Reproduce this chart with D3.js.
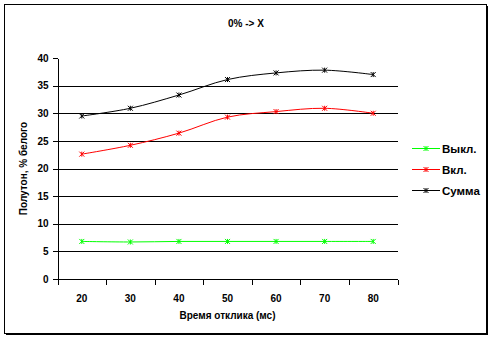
<!DOCTYPE html>
<html>
<head>
<meta charset="utf-8">
<script src="https://cdn.jsdelivr.net/npm/d3@7"></script>
<style>
  html, body { margin: 0; padding: 0; background: #fff; }
  svg { display: block; }
  text { font-family: "Liberation Sans", Arial, sans-serif; font-weight: bold; fill: #000; }
</style>
</head>
<body>
<script>
// Response time, ms
const categories = [20, 30, 40, 50, 60, 70, 80];
// Halftone, % of white
const offValues = [6.8, 6.7, 6.8, 6.8, 6.8, 6.8, 6.8];
const onValues  = [22.6, 24.2, 26.4, 29.3, 30.3, 30.9, 30.0];
const sumValues = [29.5, 30.9, 33.3, 36.1, 37.3, 37.8, 37.0];
const yTicks = [0, 5, 10, 15, 20, 25, 30, 35, 40];

const series = [
  { name: "Выкл.", values: offValues, color: "#00ff00" },
  { name: "Вкл.",  values: onValues,  color: "#ff0000" },
  { name: "Сумма", values: sumValues, color: "#000000" }
];

const W = 493, H = 340;
const plot = { left: 57.5, right: 397.5, top: 58, bottom: 279 };

const svg = d3.select("body").append("svg").attr("width", W).attr("height", H);

// chart frame with drop shadow
svg.append("rect").attr("x", 6).attr("y", 6).attr("width", 482).attr("height", 329).attr("fill", "#000");
svg.append("rect").attr("x", 4.5).attr("y", 4.5).attr("width", 482).attr("height", 329)
  .attr("fill", "#fff").attr("stroke", "#000").attr("stroke-width", 1);

const x = d3.scaleBand().domain(categories).range([plot.left, plot.right]);
const y = d3.scaleLinear().domain([0, 40]).range([plot.bottom, plot.top]);
const cx = d => x(d) + x.bandwidth() / 2;

// horizontal gridlines
svg.append("g").attr("shape-rendering", "crispEdges")
  .selectAll("line").data(yTicks.filter(t => t > 0 && t < 40)).join("line")
  .attr("x1", plot.left).attr("x2", plot.right)
  .attr("y1", d => Math.round(y(d)) + 0.5).attr("y2", d => Math.round(y(d)) + 0.5)
  .attr("stroke", "#000").attr("stroke-width", 1);

// y axis
const yAxis = svg.append("g").attr("transform", `translate(${plot.left},0)`)
  .call(d3.axisLeft(y).tickValues(yTicks).tickSize(5).tickPadding(4).tickSizeOuter(0));
yAxis.select(".domain").attr("stroke", "#000").attr("shape-rendering", "crispEdges");
yAxis.selectAll(".tick line").attr("stroke", "#000").attr("shape-rendering", "crispEdges");
yAxis.selectAll("text").style("font-size", "10px").style("font-family", "Liberation Sans, Arial, sans-serif").style("font-weight", "bold");

// x axis: ticks at category boundaries
const xg = svg.append("g").attr("transform", `translate(0,${plot.bottom + 0.5})`);
xg.append("line").attr("x1", plot.left).attr("x2", plot.right).attr("stroke", "#000").attr("shape-rendering", "crispEdges");
const bounds = categories.map(c => x(c)).concat([plot.right]);
xg.selectAll("line.tk").data(bounds).join("line").attr("class", "tk")
  .attr("x1", d => Math.round(d) + 0.5).attr("x2", d => Math.round(d) + 0.5)
  .attr("y1", 0).attr("y2", 5).attr("stroke", "#000").attr("shape-rendering", "crispEdges");
xg.selectAll("text").data(categories).join("text")
  .attr("x", d => cx(d)).attr("y", 22).attr("text-anchor", "middle")
  .style("font-size", "10px").text(d => d);

// series lines (smoothed) and star markers
const line = d3.line().x((d, i) => cx(categories[i])).y(d => y(d)).curve(d3.curveCatmullRom.alpha(0.5));
const star = (g, px, py, color) => {
  const s = 2.5;
  g.append("path")
    .attr("d", `M${px - s},${py - s}L${px + s},${py + s}M${px - s},${py + s}L${px + s},${py - s}M${px},${py - s}L${px},${py + s}`)
    .attr("stroke", color).attr("stroke-width", 1).attr("fill", "none");
};

series.forEach(s => {
  const g = svg.append("g");
  g.append("path").attr("d", line(s.values)).attr("fill", "none")
    .attr("stroke", s.color).attr("stroke-width", 1);
  s.values.forEach((v, i) => star(g, cx(categories[i]), y(v), s.color));
});

// title
svg.append("text").attr("x", 246).attr("y", 27).attr("text-anchor", "middle")
  .style("font-size", "10px").text("0% -> X");

// axis titles
svg.append("text").attr("x", (plot.left + plot.right) / 2).attr("y", 319).attr("text-anchor", "middle")
  .style("font-size", "10px").text("Время отклика (мс)");
svg.append("text").attr("transform", `translate(27,${(plot.top + plot.bottom) / 2}) rotate(-90)`)
  .attr("text-anchor", "middle").style("font-size", "10px").text("Полутон, % белого");

// legend
const legendY = [148, 169, 190];
series.forEach((s, i) => {
  const g = svg.append("g");
  g.append("line").attr("x1", 412).attr("x2", 440).attr("y1", legendY[i] + 0.5).attr("y2", legendY[i] + 0.5)
    .attr("stroke", s.color).attr("shape-rendering", "crispEdges");
  star(g, 426, legendY[i] + 0.5, s.color);
  g.append("text").attr("x", 442).attr("y", legendY[i] + 4.5).style("font-size", "11.5px").text(s.name);
});
</script>
</body>
</html>
